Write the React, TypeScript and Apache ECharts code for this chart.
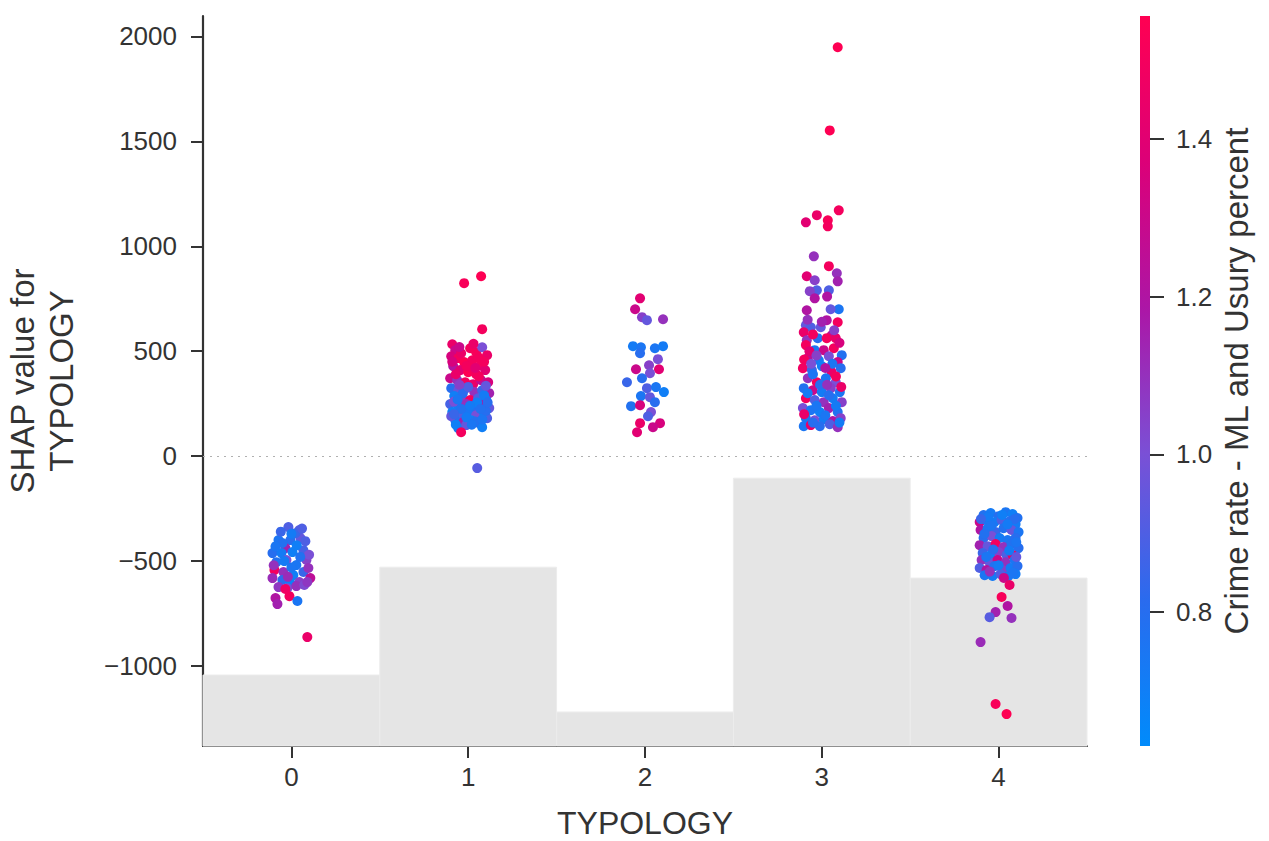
import React, { useEffect, useRef } from 'react';
import * as echarts from 'echarts';

// ---- axis / scale data ----
const xTicks = [0, 1, 2, 3, 4];
const yTicks = [-1000, -500, 0, 500, 1000, 1500, 2000];
const colorTicks = [0.8, 1.0, 1.2, 1.4];
const Y_MIN = -1381;
const Y_MAX = 2097;
const C_MIN = 0.63;
const C_MAX = 1.556;
const colorStops = ['#008bfb', '#2a6bee', '#7a50d6', '#ac16a6', '#dc0078', '#ff0052'];

// ---- histogram (background) ----
const histCategories = [0, 1, 2, 3, 4];
const histHeights = [-1043, -529, -1219, -105, -581];

// ---- points: [TYPOLOGY (jittered), SHAP value, Crime rate] ----
const typology0 = [
  [-0.017, -338, 0.9], [0.045, -352, 0.92], [-0.073, -400, 0.75], [-0.006, -400, 0.8], [0.051, -390, 0.95],
  [-0.034, -438, 1.15], [-0.107, -462, 0.8], [-0.056, -462, 0.72], [0.006, -457, 0.7], [0.068, -448, 0.88],
  [-0.085, -505, 0.78], [-0.028, -495, 1.0], [0.028, -519, 0.75], [0.085, -495, 1.05], [-0.096, -543, 1.5],
  [-0.045, -552, 1.1], [0.011, -567, 0.7], [0.068, -552, 0.85], [0.096, -533, 1.1], [0.107, -581, 1.25],
  [-0.107, -581, 1.12], [-0.051, -590, 0.82], [-0.006, -605, 0.68], [0.045, -600, 1.05], [-0.073, -624, 1.08],
  [-0.023, -629, 1.0], [0.028, -619, 1.1], [0.073, -614, 1.02], [-0.034, -633, 1.48], [-0.09, -676, 1.2],
  [-0.079, -705, 1.15], [-0.011, -667, 1.5], [0.034, -690, 0.75], [0.09, -862, 1.45], [0.023, -367, 0.85],
  [-0.051, -414, 0.78], [0.079, -405, 0.9], [-0.06, -360, 0.85], [0.0, -370, 0.72], [0.06, -345, 0.9],
  [-0.09, -430, 0.75], [0.03, -425, 0.7], [0.1, -470, 1.0], [-0.04, -500, 0.72], [0.05, -480, 0.78],
  [-0.1, -520, 1.1], [0.0, -530, 0.75], [0.09, -600, 1.08], [-0.02, -575, 1.12]
];
const typology1 = [
  [0.91, 533, 1.45], [0.927, 505, 1.3], [0.904, 476, 1.35], [0.944, 467, 1.5], [1.011, 514, 1.5],
  [1.045, 495, 1.52], [1.079, 519, 1.0], [1.107, 481, 1.45], [0.977, 448, 1.55], [1.023, 457, 1.5],
  [1.068, 433, 1.48], [0.915, 429, 1.2], [0.955, 410, 1.4], [1.0, 400, 1.55], [1.045, 390, 1.5],
  [1.096, 410, 1.4], [0.898, 371, 1.3], [0.938, 362, 1.1], [0.983, 352, 1.5], [1.028, 343, 1.45],
  [1.073, 362, 1.25], [1.113, 352, 1.35], [0.904, 324, 0.8], [0.944, 314, 0.95], [0.989, 324, 1.0],
  [1.034, 305, 1.1], [1.079, 314, 0.85], [1.119, 300, 1.15], [0.921, 286, 0.7], [0.966, 276, 1.05],
  [1.011, 267, 1.5], [1.056, 276, 0.9], [1.102, 267, 0.75], [0.898, 248, 0.88], [0.944, 238, 0.72],
  [0.989, 248, 1.1], [1.034, 233, 0.8], [1.079, 243, 1.2], [1.119, 229, 0.95], [0.91, 210, 0.7],
  [0.955, 200, 0.9], [1.0, 210, 0.75], [1.045, 195, 1.0], [1.09, 205, 0.72], [0.927, 171, 0.8],
  [0.972, 162, 1.15], [1.017, 171, 0.7], [1.062, 157, 0.85], [1.107, 181, 0.9], [0.944, 133, 0.75],
  [0.989, 148, 0.95], [1.079, 138, 0.7], [0.904, 190, 0.95], [0.93, 390, 1.45], [1.06, 380, 1.5],
  [0.97, 300, 0.8], [1.09, 290, 0.72], [0.92, 260, 1.0], [1.05, 255, 0.7], [0.96, 225, 0.78],
  [1.1, 215, 0.8], [0.99, 185, 0.72], [1.04, 165, 0.78], [0.93, 150, 0.7], [1.08, 175, 0.75],
  [1.0, 330, 0.9], [1.1, 335, 0.95], [0.95, 340, 1.05], [1.02, 420, 1.5], [0.96, 490, 1.45],
  [1.06, 470, 1.5], [0.95, 520, 1.3], [1.03, 535, 1.45], [1.09, 450, 1.5], [0.91, 450, 1.35],
  [0.99, 430, 1.5], [1.04, 420, 1.4], [0.94, 270, 0.75], [1.07, 225, 0.78], [1.01, 240, 0.72],
  [0.92, 200, 0.85], [1.11, 255, 0.8], [1.02, 150, 0.75],
  [0.977, 824, 1.52], [1.073, 857, 1.55], [1.079, 605, 1.5], [0.96, 114, 1.5], [1.051, -57, 0.92]
];
const typology2 = [
  [1.972, 752, 1.4], [1.944, 700, 1.3], [1.983, 662, 1.05], [2.011, 648, 0.95], [2.102, 652, 1.1],
  [1.932, 524, 0.72], [1.977, 519, 0.75], [1.972, 490, 0.8], [2.056, 514, 0.75], [2.102, 524, 0.72],
  [2.073, 462, 1.0], [2.023, 433, 1.05], [1.949, 414, 1.3], [2.079, 414, 1.4], [2.028, 395, 1.0],
  [1.898, 352, 0.85], [1.983, 371, 0.8], [2.011, 324, 0.9], [2.062, 329, 0.75], [2.107, 305, 0.7],
  [1.977, 286, 0.75], [2.028, 281, 0.95], [1.921, 238, 0.78], [1.972, 243, 1.35], [2.056, 257, 0.8],
  [2.034, 210, 1.0], [2.017, 190, 0.9], [1.972, 157, 1.45], [1.955, 114, 1.4], [2.085, 157, 1.35],
  [2.045, 138, 1.3]
];
const typology3 = [
  [3.09, 1948, 1.55], [3.045, 1552, 1.55], [2.91, 1114, 1.4], [2.972, 1148, 1.45], [3.034, 1124, 1.52],
  [3.034, 1095, 1.5], [3.096, 1171, 1.5], [2.955, 952, 1.1], [3.04, 905, 1.5], [3.085, 871, 1.1],
  [2.915, 857, 1.4], [2.96, 838, 1.05], [3.09, 833, 1.15], [3.04, 790, 0.9], [2.972, 790, 0.9],
  [2.932, 786, 1.05], [2.96, 752, 1.2], [2.915, 695, 1.2], [3.096, 700, 0.75], [2.91, 624, 0.95],
  [3.028, 648, 1.2], [3.09, 638, 1.5], [2.938, 614, 0.9], [2.994, 614, 0.95], [3.056, 576, 1.25],
  [2.898, 590, 1.45], [2.915, 552, 1.1], [2.977, 562, 0.8], [3.028, 562, 1.5], [3.079, 562, 1.45],
  [2.91, 529, 1.5], [2.96, 505, 0.75], [3.011, 505, 1.3], [3.068, 514, 1.5], [3.113, 481, 0.78],
  [2.921, 467, 1.25], [2.983, 457, 0.72], [3.04, 476, 1.0], [3.09, 448, 1.3], [2.893, 419, 1.48],
  [2.944, 410, 0.85], [3.0, 429, 0.7], [3.056, 400, 1.45], [3.107, 419, 0.8], [2.921, 371, 1.1],
  [2.972, 352, 1.5], [3.023, 371, 0.75], [3.079, 352, 1.0], [2.898, 324, 0.78], [2.949, 314, 1.3],
  [3.0, 305, 0.72], [3.051, 324, 1.05], [3.102, 305, 0.75], [2.91, 276, 1.5], [2.96, 267, 0.9],
  [3.011, 257, 1.1], [3.062, 276, 0.72], [3.113, 257, 1.05], [2.893, 229, 1.0], [2.938, 219, 0.75],
  [2.989, 210, 0.7], [3.04, 229, 1.15], [3.09, 210, 0.78], [2.91, 181, 0.75], [2.96, 171, 1.0],
  [3.011, 176, 0.72], [3.062, 167, 1.2], [3.107, 181, 1.05], [2.898, 143, 0.75], [2.938, 148, 1.45],
  [2.989, 143, 0.8], [3.045, 152, 0.9], [3.09, 138, 1.1], [2.93, 500, 1.4], [3.1, 540, 1.35],
  [2.97, 480, 1.05], [3.06, 440, 0.75], [2.9, 460, 1.5], [3.02, 420, 1.2], [2.95, 390, 0.75],
  [3.08, 380, 1.5], [2.99, 340, 0.8], [3.11, 330, 1.45], [2.92, 300, 0.72], [3.04, 290, 0.8],
  [2.97, 240, 0.75], [3.08, 240, 0.72], [2.9, 200, 1.45], [3.02, 195, 0.75], [3.1, 160, 0.72],
  [2.95, 160, 0.8], [3.03, 340, 1.1], [2.94, 440, 1.0], [3.07, 600, 1.05], [2.95, 580, 1.5],
  [3.0, 640, 1.15], [3.05, 700, 0.95], [2.92, 650, 1.1], [3.03, 760, 1.2]
];
const typology4 = [
  [3.915, -281, 0.78], [3.955, -271, 0.72], [4.0, -286, 0.8], [4.04, -267, 0.75], [4.079, -276, 0.7],
  [4.107, -295, 0.78], [3.893, -314, 1.3], [3.932, -305, 0.75], [3.977, -314, 0.72], [4.017, -305, 0.9],
  [4.062, -310, 0.8], [4.096, -324, 0.72], [3.898, -352, 1.2], [3.938, -343, 0.75], [3.983, -362, 0.85],
  [4.028, -343, 0.78], [4.073, -352, 0.95], [4.113, -362, 0.75], [3.915, -390, 0.8], [3.96, -381, 1.0],
  [4.006, -390, 0.72], [4.051, -400, 0.75], [4.096, -390, 0.8], [3.893, -424, 1.15], [3.938, -429, 0.95],
  [3.983, -419, 1.5], [4.028, -433, 1.1], [4.073, -419, 0.78], [4.113, -438, 0.8], [3.91, -462, 0.85],
  [3.955, -471, 0.7], [4.0, -457, 1.05], [4.045, -471, 0.9], [4.079, -471, 1.5], [3.904, -495, 1.1],
  [3.949, -505, 0.95], [3.994, -495, 1.3], [4.04, -505, 1.1], [4.09, -495, 0.75], [3.893, -533, 0.9],
  [3.932, -543, 1.2], [3.977, -524, 0.78], [4.023, -543, 1.05], [4.068, -533, 0.72], [4.107, -524, 0.8],
  [3.921, -567, 0.75], [3.966, -571, 0.72], [4.011, -562, 0.9], [4.056, -571, 0.75], [4.096, -562, 0.72],
  [3.94, -290, 0.72], [4.02, -280, 0.7], [4.09, -300, 0.8], [3.96, -330, 0.75], [4.05, -325, 0.72],
  [3.92, -370, 0.78], [4.1, -410, 0.75], [3.97, -445, 0.8], [4.06, -450, 0.72], [3.93, -480, 0.75],
  [4.1, -480, 0.95], [4.0, -520, 0.72], [3.95, -550, 1.1], [4.08, -555, 0.75], [4.03, -580, 1.3],
  [3.9, -300, 0.85], [4.062, -614, 1.45], [4.017, -671, 1.52], [4.051, -714, 1.2], [3.983, -743, 1.15],
  [3.949, -767, 0.92], [4.073, -771, 1.1], [3.898, -886, 1.12], [3.983, -1181, 1.52], [4.045, -1229, 1.55]
];

const FONT = '"Liberation Sans", Arial, Helvetica, sans-serif';
const INK = '#333333';

export default function App() {
  const ref = useRef<HTMLDivElement>(null);
  useEffect(() => {
    if (!ref.current) return;
    const chart = echarts.init(ref.current, null, { renderer: 'svg' });
    const points = [...typology0, ...typology1, ...typology2, ...typology3, ...typology4];
    const hist = histCategories.map((c, i) => [c, histHeights[i]]);

    const option: any = {
      animation: false,
      backgroundColor: '#ffffff',
      textStyle: { fontFamily: FONT },
      grid: [
        { left: 203, right: 182, top: 16, bottom: 95, containLabel: false, outerBoundsMode: 'none' },
        { left: 1140, width: 10, top: 16, bottom: 95, containLabel: false, outerBoundsMode: 'none' }
      ],
      xAxis: [
        {
          type: 'value', gridIndex: 0, min: -0.5, max: 4.5,
          axisLine: { show: true, onZero: false, lineStyle: { color: INK, width: 2.2 } },
          axisTick: { show: true, length: 12, customValues: xTicks, lineStyle: { color: INK, width: 2 } },
          axisLabel: { customValues: xTicks, fontSize: 26, color: INK, margin: 18, fontFamily: FONT },
          splitLine: { show: false },
          name: 'TYPOLOGY', nameLocation: 'middle', nameGap: 61,
          nameTextStyle: { fontSize: 32, color: INK, fontFamily: FONT }
        },
        { type: 'value', gridIndex: 1, min: 0, max: 1, show: false }
      ],
      yAxis: [
        {
          type: 'value', gridIndex: 0, min: Y_MIN, max: Y_MAX,
          axisLine: { show: true, onZero: false, lineStyle: { color: INK, width: 2.2 } },
          axisTick: { show: true, length: 12, customValues: yTicks, lineStyle: { color: INK, width: 2 } },
          axisLabel: {
            customValues: yTicks, fontSize: 26, color: INK, margin: 26, fontFamily: FONT,
            formatter: (v: number) => (v < 0 ? '\u2212' + Math.abs(v) : String(v))
          },
          splitLine: { show: false },
          name: 'SHAP value for\nTYPOLOGY', nameLocation: 'middle', nameGap: 122, nameRotate: 90,
          nameTextStyle: { fontSize: 33, lineHeight: 39, color: INK, fontFamily: FONT }
        },
        {
          type: 'value', gridIndex: 1, min: C_MIN, max: C_MAX, position: 'right',
          axisLine: { show: false, onZero: false },
          axisTick: { show: true, length: 14, customValues: colorTicks, lineStyle: { color: INK, width: 2 } },
          axisLabel: {
            customValues: colorTicks, fontSize: 26, color: INK, margin: 26, fontFamily: FONT,
            formatter: (v: number) => v.toFixed(1)
          },
          splitLine: { show: false },
          name: 'Crime rate - ML and Usury percent', nameLocation: 'middle', nameGap: 70, nameRotate: 90,
          nameTextStyle: { fontSize: 33, color: INK, fontFamily: FONT }
        }
      ],
      visualMap: {
        show: false, type: 'continuous', seriesIndex: 1, dimension: 2,
        min: C_MIN, max: C_MAX, inRange: { color: colorStops }
      },
      series: [
        {
          type: 'custom', xAxisIndex: 0, yAxisIndex: 0, z: 1, silent: true,
          data: hist,
          renderItem: (params: any, api: any) => {
            const x = api.value(0);
            const top = api.value(1);
            const p1 = api.coord([x - 0.5, top]);
            const p2 = api.coord([x + 0.5, Y_MIN]);
            return {
              type: 'rect',
              shape: { x: p1[0], y: p1[1], width: p2[0] - p1[0], height: p2[1] - p1[1] },
              style: { fill: '#e5e5e5', stroke: '#ececec', lineWidth: 1 }
            };
          }
        },
        {
          type: 'scatter', xAxisIndex: 0, yAxisIndex: 0, z: 3,
          symbolSize: 10,
          itemStyle: { opacity: 1 },
          data: points,
          markLine: {
            silent: true, symbol: 'none', label: { show: false },
            lineStyle: { type: [2, 5], color: '#b0b0b0', width: 1.2 },
            data: [{ yAxis: 0 }]
          }
        },
        {
          type: 'custom', xAxisIndex: 1, yAxisIndex: 1, silent: true,
          data: [[0]],
          renderItem: (params: any, api: any) => {
            const p1 = api.coord([0, C_MAX]);
            const p2 = api.coord([1, C_MIN]);
            return {
              type: 'rect',
              shape: { x: p1[0], y: p1[1], width: p2[0] - p1[0], height: p2[1] - p1[1] },
              style: {
                fill: new echarts.graphic.LinearGradient(0, 1, 0, 0,
                  colorStops.map((c, i) => ({ offset: i / (colorStops.length - 1), color: c })))
              }
            };
          }
        }
      ]
    };
    chart.setOption(option);
    return () => chart.dispose();
  }, []);
  return (
    <div
      ref={ref}
      style={{ position: 'absolute', left: 0, top: 0, width: 1269, height: 841, background: '#fff' }}
    />
  );
}
